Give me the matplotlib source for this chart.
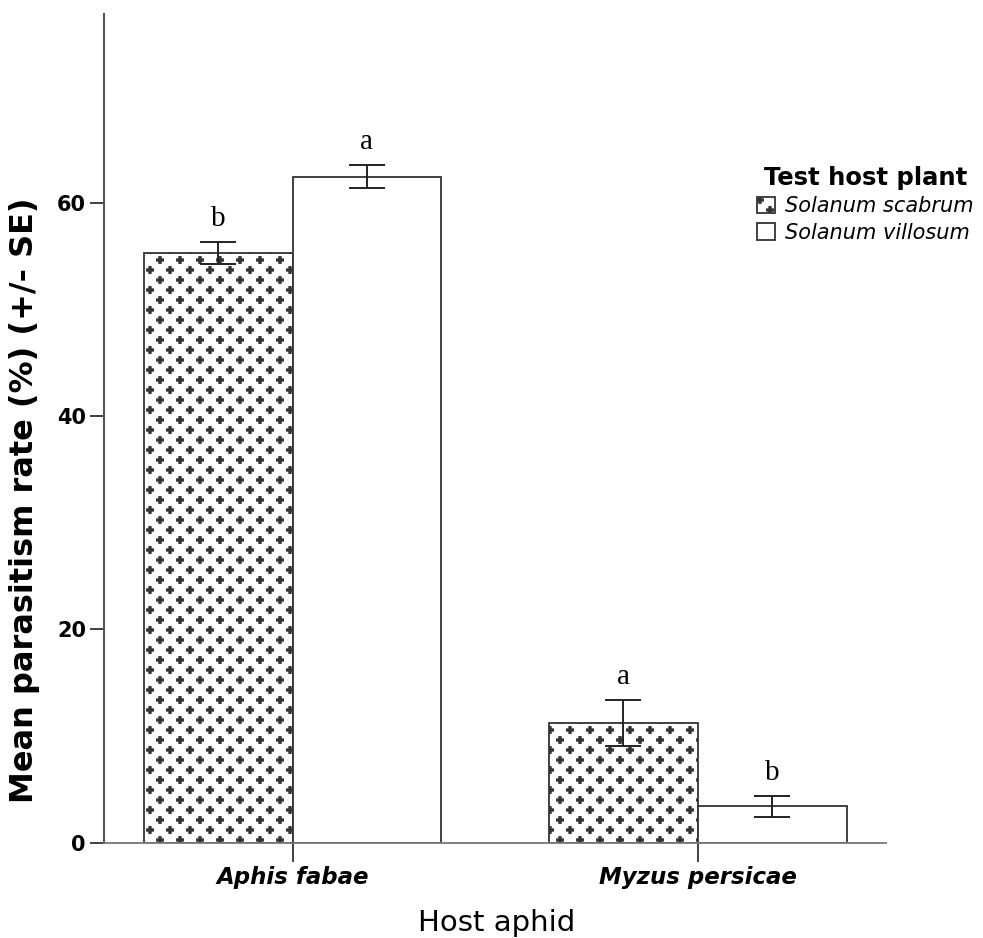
import warnings
import numpy as np
import matplotlib
matplotlib.use('Agg')
import matplotlib.pyplot as plt
import matplotlib.hatch as mhatch
from matplotlib.path import Path
from matplotlib.patches import Patch

warnings.filterwarnings('ignore')

aphids = ['Aphis fabae', 'Myzus persicae']
plants = ['Solanum scabrum', 'Solanum villosum']
scabrum_mean = [55.3, 11.2]
scabrum_se = [1.05, 2.15]
villosum_mean = [62.45, 3.4]
villosum_se = [1.1, 1.0]
scabrum_letters = ['b', 'a']
villosum_letters = ['a', 'b']
yticks = [0, 20, 40, 60]


class PlusHatch(mhatch.HatchPatternBase):
    # staggered grid of small filled plus signs, used with hatch='p'
    arm = 0.036
    half = 0.012

    def __init__(self, hatch, density):
        self.n = 5 * hatch.count('p')
        a, t = self.arm, self.half
        self.shape = np.array([
            [-t, -a], [t, -a], [t, -t], [a, -t], [a, t], [t, t],
            [t, a], [-t, a], [-t, t], [-a, t], [-a, -t], [-t, -t], [-t, -a]])
        self.centers = []
        if self.n:
            for j in range(2 * self.n + 1):
                shift = 0.5 * (j % 2)
                for i in range(self.n + 1):
                    self.centers.append(((i + shift) / self.n, j / (2 * self.n)))
        self.num_vertices = len(self.centers) * len(self.shape)

    def set_vertices_and_codes(self, vertices, codes):
        k = len(self.shape)
        code = np.full(k, Path.LINETO, dtype=Path.code_type)
        code[0] = Path.MOVETO
        code[-1] = Path.CLOSEPOLY
        for m, (cx, cy) in enumerate(self.centers):
            vertices[m * k:(m + 1) * k] = self.shape + [cx, cy]
            codes[m * k:(m + 1) * k] = code


mhatch._hatch_types.append(PlusHatch)

plt.rcParams['hatch.linewidth'] = 0.6
plt.rcParams['hatch.color'] = '#333333'
plt.rcParams['font.family'] = 'DejaVu Sans'

fig = plt.figure(figsize=(9.83, 9.38), dpi=100)
ax = fig.add_axes([0.1058, 0.1018, 0.7955, 0.8832])

x = np.arange(len(aphids))
w = 0.367
edge = '#333333'

ax.bar(x - w / 2, scabrum_mean, w, color='white', edgecolor=edge,
       hatch='p', linewidth=1.3, zorder=2)
ax.bar(x + w / 2, villosum_mean, w, color='white', edgecolor=edge,
       linewidth=1.3, zorder=2)

ax.errorbar(x - w / 2, scabrum_mean, yerr=scabrum_se, fmt='none',
            ecolor='#222222', elinewidth=1.4, capsize=13, capthick=1.4, zorder=3)
ax.errorbar(x + w / 2, villosum_mean, yerr=villosum_se, fmt='none',
            ecolor='#222222', elinewidth=1.4, capsize=13, capthick=1.4, zorder=3)

for i in range(len(aphids)):
    ax.text(x[i] - w / 2, scabrum_mean[i] + scabrum_se[i] + 1.5, scabrum_letters[i],
            ha='center', va='baseline', fontsize=21, family='Liberation Serif')
    ax.text(x[i] + w / 2, villosum_mean[i] + villosum_se[i] + 1.5, villosum_letters[i],
            ha='center', va='baseline', fontsize=21, family='Liberation Serif')

ax.set_xlim(-0.465, 1.464)
ax.set_ylim(0, 77.7)

ax.spines['top'].set_visible(False)
ax.spines['right'].set_visible(False)
ax.spines['left'].set_color('#555555')
ax.spines['left'].set_linewidth(1.5)
ax.spines['bottom'].set_color('#777777')
ax.spines['bottom'].set_linewidth(1.3)

ax.set_yticks(yticks)
ax.set_yticklabels([str(v) for v in yticks], fontsize=15, fontweight='bold')
ax.set_xticks(x)
ax.set_xticklabels(aphids, fontsize=16.5, fontweight='bold', fontstyle='italic')
ax.tick_params(axis='y', length=10, width=1.3, color='#333333', pad=3)
ax.tick_params(axis='x', length=14, width=1.3, color='#333333', pad=3)

ax.set_ylabel('Mean parasitism rate (%) (+/- SE)', fontsize=23, fontweight='bold')
ax.yaxis.set_label_coords(-0.082, 0.413)
ax.set_xlabel('Host aphid', fontsize=21)
ax.xaxis.set_label_coords(0.502, -0.080)

handles = [Patch(facecolor='white', edgecolor=edge, hatch='p', linewidth=1.3),
           Patch(facecolor='white', edgecolor=edge, linewidth=1.3)]
leg = ax.legend(handles, plants, title='Test host plant', loc='upper left',
                bbox_to_anchor=(0.770, 0.823), bbox_transform=fig.transFigure,
                frameon=False, borderpad=0, borderaxespad=0,
                handlelength=0.85, handleheight=0.85,
                handletextpad=0.5, labelspacing=0.3,
                prop={'size': 15, 'style': 'italic'},
                title_fontproperties={'size': 17.5, 'weight': 'bold'})

fig.savefig('out.png', dpi=100)
